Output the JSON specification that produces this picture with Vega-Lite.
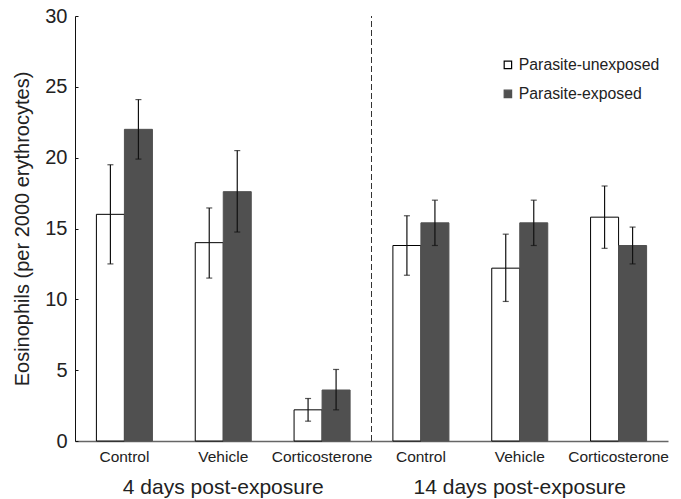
{
  "$schema": "https://vega.github.io/schema/vega-lite/v6.json",
  "autosize": "none",
  "width": 593,
  "height": 425,
  "padding": {"left": 75, "top": 16, "right": 13, "bottom": 58},
  "background": "white",
  "config": {
    "view": {"stroke": null},
    "font": "Liberation Sans",
    "axis": {"labelFont": "Liberation Sans", "titleFont": "Liberation Sans", "labelColor": "#222", "titleColor": "#222", "grid": false},
    "legend": {"labelFont": "Liberation Sans"}
  },
  "datasets": {
    "bars": [
      {"cond": "Control|4", "group": "Parasite-unexposed", "mean": 16.0, "lo": 12.5, "hi": 19.5},
      {"cond": "Control|4", "group": "Parasite-exposed", "mean": 22.0, "lo": 19.9, "hi": 24.1},
      {"cond": "Vehicle|4", "group": "Parasite-unexposed", "mean": 14.0, "lo": 11.5, "hi": 16.45},
      {"cond": "Vehicle|4", "group": "Parasite-exposed", "mean": 17.6, "lo": 14.75, "hi": 20.5},
      {"cond": "Corticosterone|4", "group": "Parasite-unexposed", "mean": 2.2, "lo": 1.4, "hi": 3.0},
      {"cond": "Corticosterone|4", "group": "Parasite-exposed", "mean": 3.6, "lo": 2.2, "hi": 5.05},
      {"cond": "Control|14", "group": "Parasite-unexposed", "mean": 13.8, "lo": 11.7, "hi": 15.9},
      {"cond": "Control|14", "group": "Parasite-exposed", "mean": 15.4, "lo": 13.8, "hi": 17.0},
      {"cond": "Vehicle|14", "group": "Parasite-unexposed", "mean": 12.2, "lo": 9.85, "hi": 14.6},
      {"cond": "Vehicle|14", "group": "Parasite-exposed", "mean": 15.4, "lo": 13.8, "hi": 17.0},
      {"cond": "Corticosterone|14", "group": "Parasite-unexposed", "mean": 15.8, "lo": 13.6, "hi": 18.0},
      {"cond": "Corticosterone|14", "group": "Parasite-exposed", "mean": 13.8, "lo": 12.5, "hi": 15.1}
    ],
    "periods": [
      {"cond": "Vehicle|4", "label": "4 days post-exposure"},
      {"cond": "Vehicle|14", "label": "14 days post-exposure"}
    ],
    "divider": [
      {"cond": "Control|14"}
    ]
  },
  "encoding": {
    "x": {
      "field": "cond", "type": "nominal",
      "scale": {"domain": ["Control|4", "Vehicle|4", "Corticosterone|4", "Control|14", "Vehicle|14", "Corticosterone|14"], "paddingInner": 0, "paddingOuter": 0},
      "axis": {"title": null, "labelExpr": "split(datum.label, '|')[0]", "labelAngle": 0, "ticks": false, "labelFontSize": 15.5, "labelPadding": 8, "domainColor": "#666", "domainWidth": 1.5}
    }
  },
  "layer": [
    {
      "data": {"name": "bars"},
      "mark": {"type": "bar", "strokeWidth": 1},
      "encoding": {
        "xOffset": {"field": "group", "type": "nominal", "scale": {"domain": ["Parasite-unexposed", "Parasite-exposed"], "paddingInner": 0, "paddingOuter": 0.764}},
        "y": {
          "field": "mean", "type": "quantitative",
          "scale": {"domain": [0, 30], "nice": false},
          "axis": {"title": "Eosinophils (per 2000 erythrocytes)", "titleFontSize": 20, "titleFontWeight": "normal", "titlePadding": 12, "values": [0, 5, 10, 15, 20, 25, 30], "labelFontSize": 20, "tickSize": -3, "labelPadding": 11, "domainColor": "#111", "tickColor": "#111"}
        },
        "fill": {
          "field": "group", "type": "nominal",
          "scale": {"domain": ["Parasite-unexposed", "Parasite-exposed"], "range": ["#ffffff", "#505050"]},
          "legend": {"title": null, "orient": "none", "legendX": 425, "legendY": 41, "symbolType": "square", "symbolSize": 55, "labelFontSize": 15.8, "labelColor": "#222", "rowPadding": 12, "symbolStrokeWidth": 1.2, "labelOffset": 3}
        },
        "stroke": {
          "field": "group", "type": "nominal",
          "scale": {"domain": ["Parasite-unexposed", "Parasite-exposed"], "range": ["#000000", "#505050"]},
          "legend": null
        }
      }
    },
    {
      "data": {"name": "bars"},
      "mark": {"type": "rule", "color": "#111", "strokeWidth": 1.2},
      "encoding": {
        "xOffset": {"field": "group", "type": "nominal"},
        "y": {"field": "lo", "type": "quantitative"},
        "y2": {"field": "hi"}
      }
    },
    {
      "data": {"name": "bars"},
      "mark": {"type": "tick", "color": "#111", "size": 6, "thickness": 1.2},
      "encoding": {
        "xOffset": {"field": "group", "type": "nominal"},
        "y": {"field": "lo", "type": "quantitative"}
      }
    },
    {
      "data": {"name": "bars"},
      "mark": {"type": "tick", "color": "#111", "size": 6, "thickness": 1.2},
      "encoding": {
        "xOffset": {"field": "group", "type": "nominal"},
        "y": {"field": "hi", "type": "quantitative"}
      }
    },
    {
      "data": {"name": "divider"},
      "mark": {"type": "rule", "color": "#333", "strokeWidth": 1, "strokeDash": [6, 3]},
      "encoding": {
        "x": {"field": "cond", "type": "nominal", "bandPosition": 0},
        "y": {"datum": 0},
        "y2": {"datum": 30}
      }
    },
    {
      "data": {"name": "periods"},
      "mark": {"type": "text", "fontSize": 21, "color": "#222", "baseline": "middle", "align": "center"},
      "encoding": {
        "text": {"field": "label"},
        "y": {"datum": -3.3}
      }
    }
  ]
}
